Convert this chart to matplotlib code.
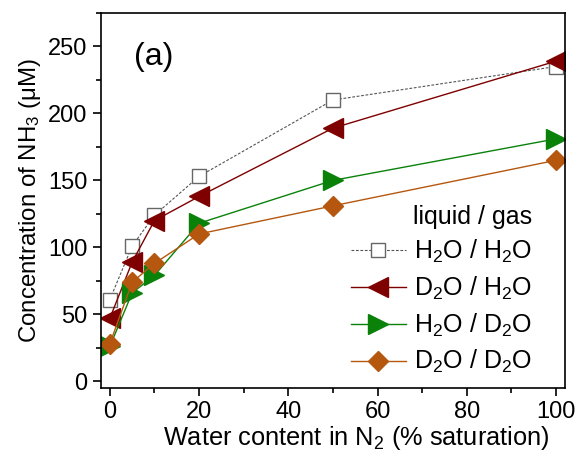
import matplotlib
matplotlib.use("Agg")
import matplotlib.pyplot as plt
from matplotlib.ticker import MultipleLocator

plt.rcParams["font.family"] = ["Liberation Sans", "DejaVu Sans"]
plt.rcParams["mathtext.fontset"] = "custom"
plt.rcParams["mathtext.rm"] = "Liberation Sans"
plt.rcParams["mathtext.it"] = "Liberation Sans:italic"

water = [0, 5, 10, 20, 50, 100]
h2o_h2o = [61, 101, 124, 153, 210, 235]
d2o_h2o = [47, 89, 120, 138, 189, 239]
h2o_d2o = [26, 66, 79, 118, 150, 181]
d2o_d2o = [28, 74, 88, 110, 131, 165]

fig, ax = plt.subplots(figsize=(5.8, 4.63), dpi=100)
ax.plot(water, h2o_h2o, ls="--", lw=0.8, color="#555555", marker="s", ms=10,
        mfc="white", mec="#666666", mew=1.0, dashes=(2.5, 1.5),
        label=r"H$_2$O / H$_2$O")
ax.plot(water, d2o_h2o, lw=1.0, color="#7f0000", marker="<", ms=14,
        label=r"D$_2$O / H$_2$O")
ax.plot(water, h2o_d2o, lw=1.0, color="#0a820a", marker=">", ms=14,
        label=r"H$_2$O / D$_2$O")
ax.plot(water, d2o_d2o, lw=1.0, color="#b5570f", marker="D", ms=10.5,
        label=r"D$_2$O / D$_2$O")

ax.set_xlim(-2, 102)
ax.set_ylim(-5, 275)
ax.xaxis.set_major_locator(MultipleLocator(20))
ax.xaxis.set_minor_locator(MultipleLocator(10))
ax.yaxis.set_major_locator(MultipleLocator(50))
ax.yaxis.set_minor_locator(MultipleLocator(25))
ax.tick_params(which="major", length=6, width=1.2, labelsize=17, direction="out")
ax.tick_params(which="minor", length=3.5, width=1.2, direction="out")
for s in ax.spines.values():
    s.set_linewidth(1.2)

ax.set_xlabel(r"Water content in N$_2$ (% saturation)", fontsize=18.3)
ax.xaxis.set_label_coords(0.55, -0.095)
ax.set_ylabel(r"Concentration of NH$_3$ ($\mathrm{\mu}$M)", fontsize=17.3)
ax.text(0.072, 0.86, "(a)", transform=ax.transAxes, fontsize=23)

leg = ax.legend(loc="lower right", frameon=False, fontsize=18, title="liquid / gas",
                title_fontsize=18, handlelength=2.2, borderaxespad=0.1,
                bbox_to_anchor=(0.957, 0.0),
                labelspacing=0.38, handletextpad=0.35)
leg._legend_box.align = "right"

fig.subplots_adjust(left=0.174, right=0.974, top=0.972, bottom=0.162)
fig.savefig("out.png", dpi=100)
